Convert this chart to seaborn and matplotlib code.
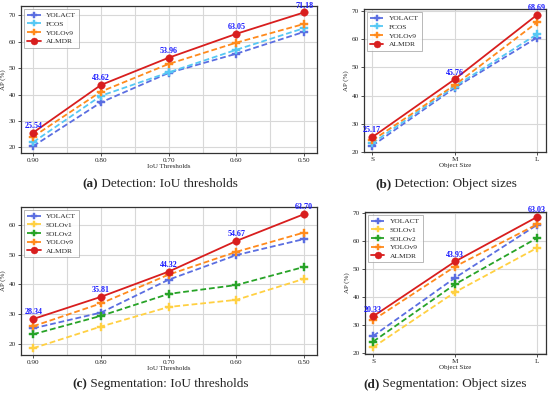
import numpy as np
import pandas as pd
import matplotlib
matplotlib.use("Agg")
import matplotlib.pyplot as plt
import seaborn as sns

# ---------------- data ----------------
iou_labels = ["0.90", "0.80", "0.70", "0.60", "0.50"]
size_labels = ["S", "M", "L"]

# (a) Detection: IoU thresholds
det_iou_yolact = [20.4, 37.0, 48.2, 55.5, 63.8]
det_iou_fcos = [21.9, 39.5, 48.4, 57.0, 65.2]
det_iou_yolov9 = [24.0, 41.1, 51.6, 59.7, 66.8]
det_iou_almdr = [25.54, 43.62, 53.96, 63.05, 71.18]
det_iou_almdr_text = ["25.54", "43.62", "53.96", "63.05", "71.18"]

# (b) Detection: object sizes
det_size_yolact = [22.1, 42.7, 60.6]
det_size_fcos = [23.0, 43.2, 61.8]
det_size_yolov9 = [24.0, 43.7, 66.0]
det_size_almdr = [25.17, 45.76, 68.69]
det_size_almdr_text = ["25.17", "45.76", "68.69"]

# (c) Segmentation: IoU thresholds
seg_iou_yolact = [25.2, 30.5, 41.6, 49.9, 55.3]
seg_iou_solov1 = [18.5, 25.8, 32.4, 34.8, 41.9]
seg_iou_solov2 = [23.2, 29.4, 36.8, 39.8, 45.9]
seg_iou_yolov9 = [25.9, 33.6, 43.3, 51.0, 57.5]
seg_iou_almdr = [28.34, 35.81, 44.32, 54.67, 63.70]
seg_iou_almdr_text = ["28.34", "35.81", "44.32", "54.67", "63.70"]

# (d) Segmentation: object sizes
seg_size_yolact = [26.1, 46.8, 65.6]
seg_size_solov1 = [22.1, 41.7, 57.4]
seg_size_solov2 = [24.1, 44.5, 60.9]
seg_size_yolov9 = [31.8, 50.8, 65.8]
seg_size_almdr = [33.1, 52.6, 68.4]
seg_size_almdr_text = ["20.33", "43.93", "63.03"]

colors = {
    "YOLACT": "#5b6ee1",
    "FCOS": "#56c8f4",
    "SOLOv1": "#ffd042",
    "SOLOv2": "#27a327",
    "YOLOv9": "#ff8a1c",
    "ALMDR": "#d81e1e",
}

SERIF = ["Liberation Serif", "DejaVu Serif"]

sns.set_theme(style="whitegrid")
plt.rcParams["font.family"] = SERIF
plt.rcParams["font.serif"] = ["Liberation Serif"]

fig = plt.figure(figsize=(5.5, 3.98), dpi=100)


def panel(rect, cats, series, almdr_text, xlabel, ylim, xlim, minor_grid):
    ax = fig.add_axes(rect)
    rows = []
    for name, vals in series:
        for i, (c, v) in enumerate(zip(cats, vals)):
            rows.append({"pos": i, "model": name, "AP": v})
    df = pd.DataFrame(rows)
    names = [n for n, _ in series]
    markers = {n: ("o" if n == "ALMDR" else "P") for n in names}
    dashes = {n: ("" if n == "ALMDR" else (3.2, 1.6)) for n in names}
    sns.lineplot(data=df, x="pos", y="AP", hue="model", style="model",
                 hue_order=names, style_order=names,
                 palette=colors, markers=markers, dashes=dashes,
                 markersize=5.4, linewidth=1.3,
                 sort=False, ax=ax, legend=True)
    for ln in ax.lines:
        ln.set_markeredgecolor(ln.get_color())
        ln.set_markeredgewidth(0.3)
    almdr_vals = dict(series)["ALMDR"]
    for i, (v, t) in enumerate(zip(almdr_vals, almdr_text)):
        ax.annotate(t, (i, v), xytext=(0, 2.0), textcoords="offset points",
                    ha="center", va="bottom", color="#1a1aff",
                    fontsize=5.8, fontweight="bold")
    ax.set_xticks(range(len(cats)))
    ax.set_xticklabels(cats)
    if minor_grid:
        ax.set_xticks(np.arange(0.5, len(cats) - 1, 1.0), minor=True)
        ax.grid(True, which="minor", axis="x", color="#d8d8d8", linewidth=0.8)
    ax.set_xlim(*xlim)
    ax.set_ylim(*ylim)
    ax.set_yticks([20, 30, 40, 50, 60, 70] if ylim[1] > 70 else [20, 30, 40, 50, 60])
    ax.grid(True, which="major", color="#d8d8d8", linewidth=0.8)
    ax.set_xlabel(xlabel, fontsize=5.0, labelpad=1.0)
    ax.set_ylabel("AP (%)", fontsize=5.0, labelpad=2.0)
    ax.tick_params(axis="both", which="major", labelsize=5.2, length=2,
                   width=0.6, pad=1.5, color="#333333", bottom=True, left=True)
    ax.tick_params(axis="x", which="minor", length=0)
    for s in ax.spines.values():
        s.set_color("#333333")
        s.set_linewidth(0.9)
    ax.set_facecolor("white")
    leg = ax.legend(loc="upper left", fontsize=5.4, frameon=True,
                    handlelength=1.8, borderpad=0.45, labelspacing=0.32,
                    handletextpad=0.7, borderaxespad=0.35)
    for h in leg.legend_handles:
        h.set_markeredgecolor(h.get_color())
        h.set_markeredgewidth(0.3)
        h.set_markersize(5.0)
    leg.get_frame().set_edgecolor("#999999")
    leg.get_frame().set_linewidth(0.6)
    leg.get_frame().set_boxstyle("square", pad=0)
    return ax


axes = []
axes.append(panel([0.0382, 0.6156, 0.5382, 0.3693], iou_labels,
      [("YOLACT", det_iou_yolact), ("FCOS", det_iou_fcos),
       ("YOLOv9", det_iou_yolov9), ("ALMDR", det_iou_almdr)],
      det_iou_almdr_text, "IoU Thresholds", (17.8, 73.6), (-0.18, 4.19), True))

axes.append(panel([0.6618, 0.6181, 0.3309, 0.3593], size_labels,
      [("YOLACT", det_size_yolact), ("FCOS", det_size_fcos),
       ("YOLOv9", det_size_yolov9), ("ALMDR", det_size_almdr)],
      det_size_almdr_text, "Object Size", (19.9, 70.8), (-0.1, 2.11), False))

axes.append(panel([0.0382, 0.1080, 0.5382, 0.3719], iou_labels,
      [("YOLACT", seg_iou_yolact), ("SOLOv1", seg_iou_solov1),
       ("SOLOv2", seg_iou_solov2), ("YOLOv9", seg_iou_yolov9),
       ("ALMDR", seg_iou_almdr)],
      seg_iou_almdr_text, "IoU Thresholds", (16.2, 66.1), (-0.18, 4.19), True))

axes.append(panel([0.6636, 0.1106, 0.3291, 0.3568], size_labels,
      [("YOLACT", seg_size_yolact), ("SOLOv1", seg_size_solov1),
       ("SOLOv2", seg_size_solov2), ("YOLOv9", seg_size_yolov9),
       ("ALMDR", seg_size_almdr)],
      seg_size_almdr_text, "Object Size", (19.7, 70.2), (-0.1, 2.11), False))

ax0 = axes[0]
for (x, y, tag, text) in [
    (0.149, 0.530, "(a)", "Detection: IoU thresholds"),
    (0.682, 0.530, "(b)", "Detection: Object sizes"),
    (0.131, 0.0276, "(c)", "Segmentation: IoU thresholds"),
    (0.660, 0.0276, "(d)", "Segmentation: Object sizes"),
]:
    t = fig.text(x, y, tag, fontsize=9.5, fontweight="bold", ha="left",
                 va="baseline", family=SERIF)
    ax0.annotate(" " + text, xy=(1, 0), xycoords=t, xytext=(0, 0),
                 textcoords="offset points", ha="left", va="bottom",
                 fontsize=9.5, family=SERIF, annotation_clip=False)

fig.savefig("out.png", dpi=100, facecolor="white")
